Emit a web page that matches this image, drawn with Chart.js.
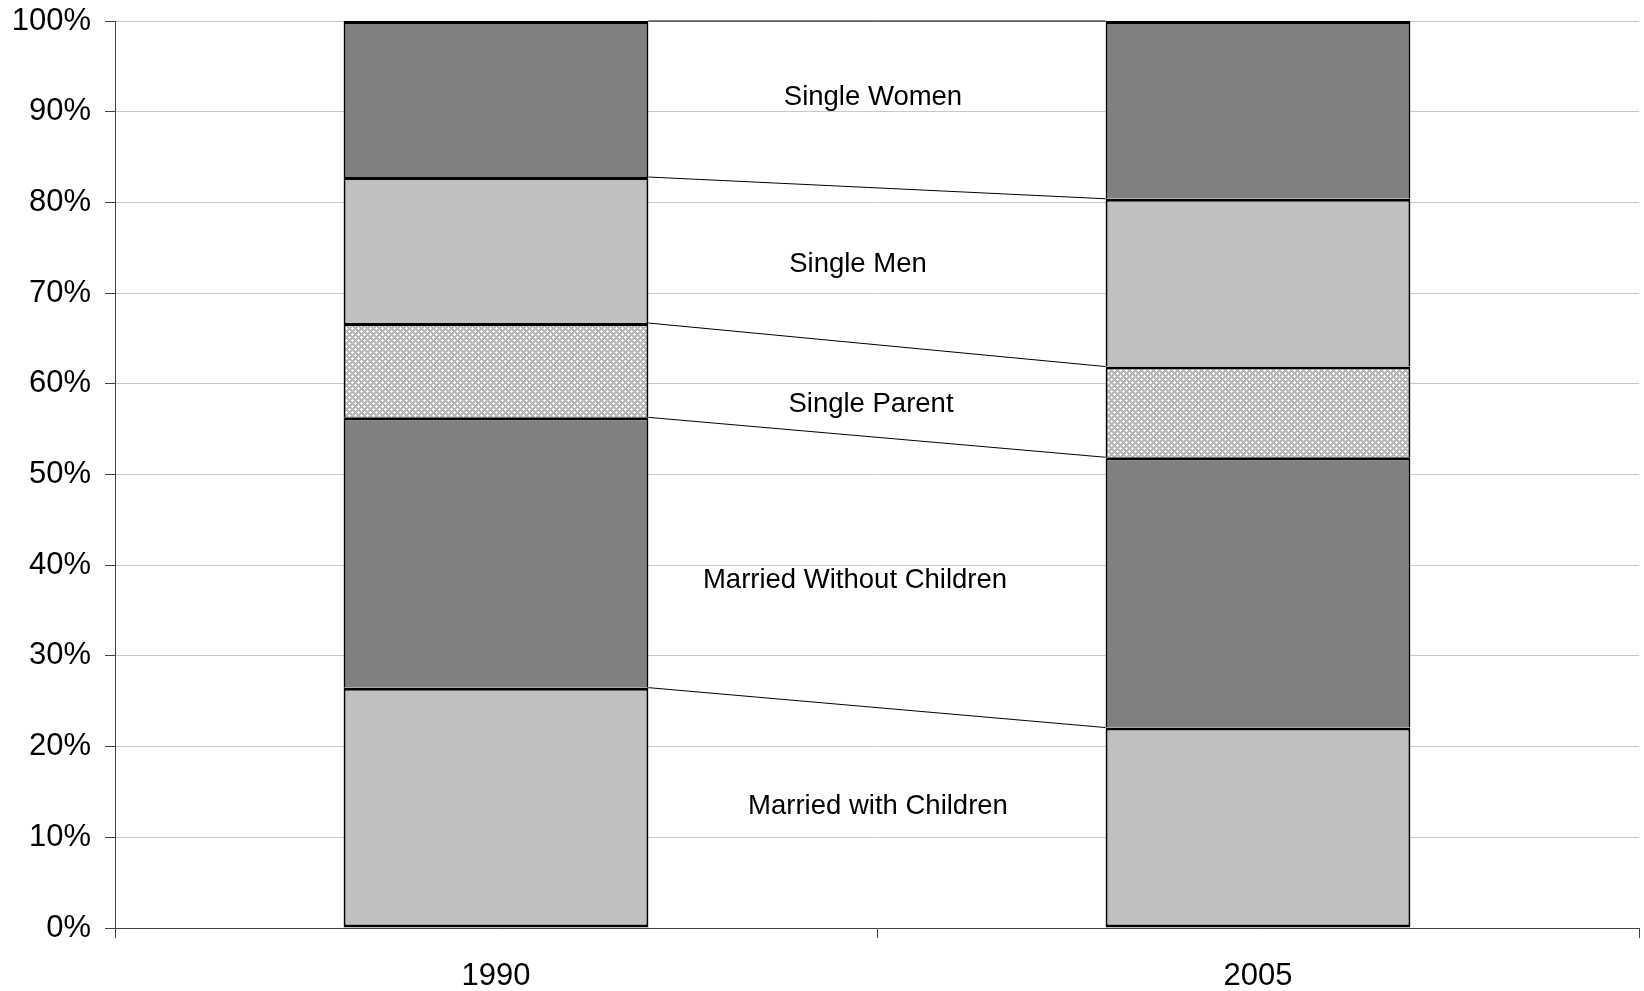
<!DOCTYPE html>
<html>
<head>
<meta charset="utf-8">
<script src="https://cdn.jsdelivr.net/npm/chart.js@4/dist/chart.umd.min.js"></script>
<style>
  html, body { margin: 0; padding: 0; background: #ffffff; }
  #wrap { width: 1644px; height: 991px; position: relative; }
</style>
</head>
<body>
<div id="wrap"><canvas id="c" width="1644" height="991"></canvas></div>
<script>
// ---- data ----
const categories = ['1990', '2005'];
const seriesNames = ['Married with Children', 'Married Without Children', 'Single Parent', 'Single Men', 'Single Women'];
const marriedWithChildren = [26.5, 22.1];
const marriedWithoutChildren = [29.8, 29.8];
const singleParent = [10.4, 10.0];
const singleMen = [16.1, 18.5];
const singleWomen = [17.2, 19.6];
const yTicks = [0, 10, 20, 30, 40, 50, 60, 70, 80, 90, 100];

// ---- styles ----
function makePattern(g0) {
  const t = document.createElement('canvas');
  t.width = 6; t.height = 6;
  const g = t.getContext('2d');
  g.fillStyle = '#b6b6b6';
  g.fillRect(0, 0, 6, 6);
  g.fillStyle = '#ffffff';
  const plus = [[1,0],[0,1],[1,1],[2,1],[1,2],[4,3],[3,4],[4,4],[5,4],[4,5]];
  plus.forEach(p => g.fillRect(p[0], p[1], 1, 1));
  return g0.createPattern(t, 'repeat');
}
const ctx = document.getElementById('c').getContext('2d');
const hatch = makePattern(ctx);
const fills = ['#c0c0c0', '#808080', hatch, '#c0c0c0', '#808080'];
const seriesValues = [marriedWithChildren, marriedWithoutChildren, singleParent, singleMen, singleWomen];

const FONT = '"Liberation Sans", Arial, Helvetica, sans-serif';

const labelStyle = {
  font: '27.5px ' + FONT,
  items: [
    { name: 'Single Women', at: 91.6, dx: -4 },
    { name: 'Single Men', at: 73.2, dx: -19 },
    { name: 'Single Parent', at: 57.7, dx: -6 },
    { name: 'Married Without Children', at: 38.3, dx: -22 },
    { name: 'Married with Children', at: 13.35, dx: 1 }
  ]
};

const connectorPlugin = {
  id: 'connectors',
  afterDatasetsDraw(chart) {
    const c = chart.ctx;
    c.save();
    c.strokeStyle = '#000000';
    c.lineWidth = 1;
    chart.data.datasets.forEach((ds, i) => {
      const meta = chart.getDatasetMeta(i);
      const a = meta.data[0], b = meta.data[1];
      c.beginPath();
      c.moveTo(a.x + a.width / 2, a.y);
      c.lineTo(b.x - b.width / 2, b.y);
      c.stroke();
    });
    c.restore();
  }
};

const labelPlugin = {
  id: 'segLabels',
  afterDraw(chart) {
    const c = chart.ctx;
    const xs = chart.scales.x, ys = chart.scales.y;
    const mid = (xs.getPixelForValue(0) + xs.getPixelForValue(1)) / 2;
    c.save();
    c.font = labelStyle.font;
    c.fillStyle = '#000000';
    c.textAlign = 'center';
    c.textBaseline = 'middle';
    labelStyle.items.forEach(it => {
      c.fillText(it.name, mid + it.dx, ys.getPixelForValue(it.at));
    });
    c.restore();
  }
};

const datasets = seriesNames.map((n, i) => ({
  label: n,
  data: seriesValues[i],
  backgroundColor: fills[i],
  borderColor: '#000000',
  borderWidth: i === 0 ? { top: 3, left: 2, right: 2, bottom: 3 } : { top: 3, left: 2, right: 2, bottom: 0 },
  borderSkipped: i === 0 ? false : 'start',
  barPercentage: 0.4,
  categoryPercentage: 1.0
}));

new Chart(ctx, {
  type: 'bar',
  data: { labels: categories, datasets },
  options: {
    responsive: false,
    animation: false,
    events: [],
    layout: { padding: { top: 21, right: 5, left: 0, bottom: 0 } },
    plugins: { legend: { display: false }, tooltip: { enabled: false }, title: { display: false } },
    scales: {
      x: {
        stacked: true,
        offset: true,
        grid: { offset: true, drawOnChartArea: false, drawTicks: true, tickLength: 10, color: '#404040', tickColor: '#404040', lineWidth: 1 },
        border: { display: true, color: '#404040', width: 1 },
        ticks: { color: '#000000', font: { family: FONT, size: 31 }, padding: 20, maxRotation: 0 },
        afterFit(s) { s.height = 63; }
      },
      y: {
        stacked: true,
        min: 0, max: 100,
        afterBuildTicks(s) { s.ticks = yTicks.map(v => ({ value: v })); },
        grid: { color: '#c8c8c8', lineWidth: 1, tickColor: '#404040', tickLength: 10, drawTicks: true },
        border: { display: true, color: '#404040', width: 1 },
        ticks: { color: '#000000', font: { family: FONT, size: 31, lineHeight: 0.4 }, padding: 14, callback: v => v + '%' },
        afterFit(s) { s.width = 115; }
      }
    }
  },
  plugins: [connectorPlugin, labelPlugin]
});
</script>
</body>
</html>
